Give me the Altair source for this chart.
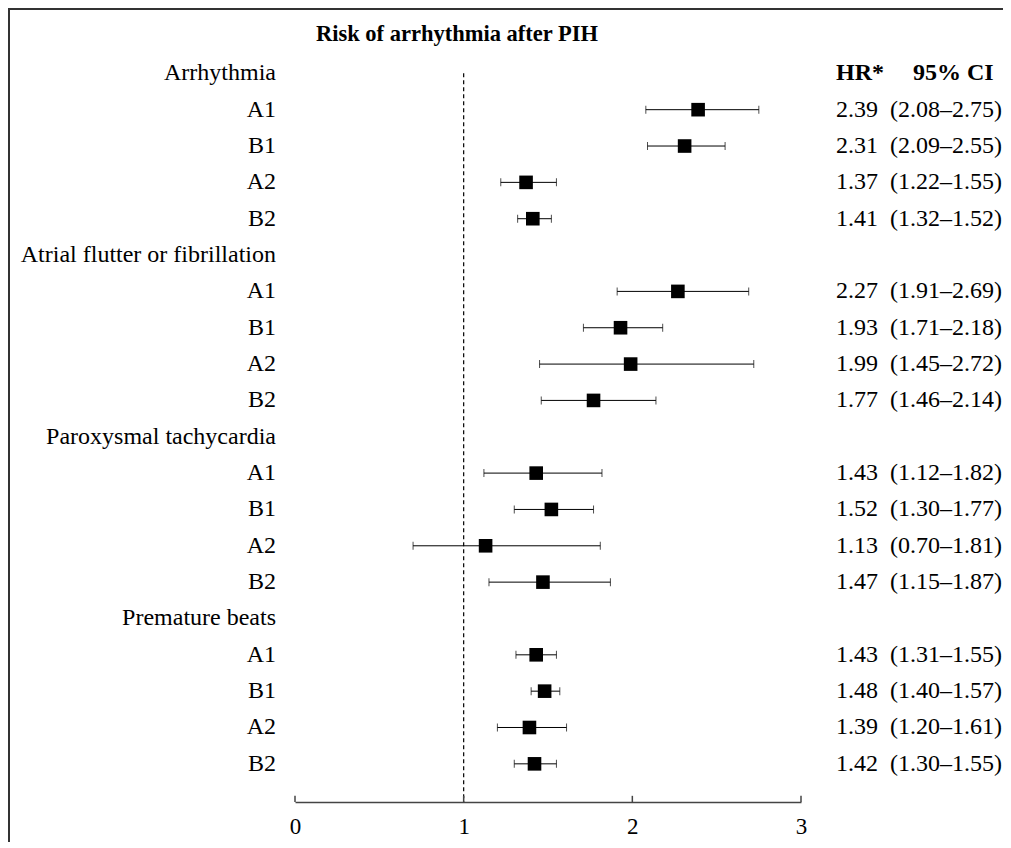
import altair as alt
import pandas as pd

title_text = "Risk of arrhythmia after PIH"
groups = ["Arrhythmia", "Atrial flutter or fibrillation", "Paroxysmal tachycardia", "Premature beats"]
subgroups = ["A1", "B1", "A2", "B2"]
hr = [
    [2.39, 2.31, 1.37, 1.41],
    [2.27, 1.93, 1.99, 1.77],
    [1.43, 1.52, 1.13, 1.47],
    [1.43, 1.48, 1.39, 1.42],
]
ci_lo = [
    [2.08, 2.09, 1.22, 1.32],
    [1.91, 1.71, 1.45, 1.46],
    [1.12, 1.30, 0.70, 1.15],
    [1.31, 1.40, 1.20, 1.30],
]
ci_hi = [
    [2.75, 2.55, 1.55, 1.52],
    [2.69, 2.18, 2.72, 2.14],
    [1.82, 1.77, 1.81, 1.87],
    [1.55, 1.57, 1.61, 1.55],
]
x_ticks = [0, 1, 2, 3]
ref_value = 1
col_headers = ["HR*", "95% CI"]

FONT = "Liberation Serif, Times New Roman, serif"
FS = 24

# build tables
grp_rows, est_rows = [], []
r = 0
for g, name in enumerate(groups):
    grp_rows.append({"label": name, "row": r})
    r += 1
    for j, sg in enumerate(subgroups):
        est_rows.append({
            "label": sg, "row": r, "hr": hr[g][j], "lo": ci_lo[g][j], "hi": ci_hi[g][j],
            "hr_txt": f"{hr[g][j]:.2f}",
            "ci_txt": f"({ci_lo[g][j]:.2f}\u2013{ci_hi[g][j]:.2f})",
        })
        r += 1
n_rows = r
grp_df = pd.DataFrame(grp_rows)
est_df = pd.DataFrame(est_rows)
lab_df = pd.concat([grp_df[["label", "row"]], est_df[["label", "row"]]])

ymax = n_rows + 0.05
xs = alt.Scale(domain=[0, 3], nice=False, zero=False)
ys = alt.Scale(domain=[-1, ymax], reverse=True, nice=False, zero=False)
xaxis = alt.Axis(values=x_ticks, tickSize=0, labelFont=FONT, labelFontSize=23, labelColor="black",
                 domainColor="#444", domainWidth=1.5, grid=False, title=None, labelPadding=13,
                 format="d", labelFlush=False)

W, H = 506, 765

# frame (left & top border)
frame_df = pd.DataFrame({"k": [0]})
frame_left = alt.Chart(frame_df).mark_rule(color="#333", strokeWidth=2).encode(
    x=alt.value(-286), y=alt.value(-29), y2=alt.value(H + 60))
frame_top = alt.Chart(frame_df).mark_rule(color="#333", strokeWidth=2).encode(
    x=alt.value(-287), x2=alt.value(W + 250), y=alt.value(-28))

ref_df = pd.DataFrame({"x": [ref_value], "y": [0], "y2": [ymax]})
ref = alt.Chart(ref_df).mark_rule(color="black", strokeWidth=1.2, strokeDash=[4, 3]).encode(
    x=alt.X("x:Q", scale=xs, axis=xaxis),
    y=alt.Y("y:Q", scale=ys, axis=None),
    y2="y2:Q",
)

tick_df = pd.DataFrame({"x": x_ticks, "y": [ymax - 0.17] * len(x_ticks), "y2": [ymax] * len(x_ticks)})
ticks = alt.Chart(tick_df).mark_rule(color="#444", strokeWidth=1.5).encode(
    x=alt.X("x:Q", scale=xs, axis=xaxis),
    y=alt.Y("y:Q", scale=ys, axis=None),
    y2="y2:Q",
)

base = alt.Chart(est_df)
err = base.mark_rule(color="black", strokeWidth=1).encode(
    x=alt.X("lo:Q", scale=xs, axis=xaxis),
    x2="hi:Q",
    y=alt.Y("row:Q", scale=ys, axis=None),
)
cap_lo = base.mark_tick(color="black", thickness=1, size=8, orient="vertical").encode(
    x=alt.X("lo:Q", scale=xs, axis=xaxis),
    y=alt.Y("row:Q", scale=ys, axis=None),
)
cap_hi = base.mark_tick(color="black", thickness=1, size=8, orient="vertical").encode(
    x=alt.X("hi:Q", scale=xs, axis=xaxis),
    y=alt.Y("row:Q", scale=ys, axis=None),
)
pts = base.mark_square(color="black", size=185, opacity=1, filled=True).encode(
    x=alt.X("hr:Q", scale=xs, axis=xaxis),
    y=alt.Y("row:Q", scale=ys, axis=None),
)

labels = alt.Chart(lab_df).mark_text(font=FONT, fontSize=FS, align="right", baseline="middle",
                                     color="black").encode(
    x=alt.value(-19),
    y=alt.Y("row:Q", scale=ys, axis=None),
    text="label:N",
)
hr_text = base.mark_text(font=FONT, fontSize=FS, align="left", baseline="middle", color="black").encode(
    x=alt.value(541),
    y=alt.Y("row:Q", scale=ys, axis=None),
    text="hr_txt:N",
)
ci_text = base.mark_text(font=FONT, fontSize=FS, align="left", baseline="middle", color="black").encode(
    x=alt.value(595),
    y=alt.Y("row:Q", scale=ys, axis=None),
    text="ci_txt:N",
)
head_df = pd.DataFrame({"t": [col_headers[0]], "row": [0]})
head2_df = pd.DataFrame({"t": [col_headers[1]], "row": [0]})
head1 = alt.Chart(head_df).mark_text(font=FONT, fontSize=FS, fontWeight="bold", align="left",
                                     baseline="middle", color="black").encode(
    x=alt.value(541), y=alt.Y("row:Q", scale=ys, axis=None), text="t:N")
head2 = alt.Chart(head2_df).mark_text(font=FONT, fontSize=FS, fontWeight="bold", align="left",
                                      baseline="middle", color="black").encode(
    x=alt.value(618), y=alt.Y("row:Q", scale=ys, axis=None), text="t:N")

title_df = pd.DataFrame({"t": [title_text], "row": [-1.07]})
title = alt.Chart(title_df).mark_text(font=FONT, fontSize=22.5, fontWeight="bold", align="center",
                                      baseline="middle", color="black").encode(
    x=alt.value(162), y=alt.Y("row:Q", scale=ys, axis=None), text="t:N")

chart = alt.layer(
    frame_left, frame_top, ref, ticks, err, cap_lo, cap_hi, pts,
    labels, hr_text, ci_text, head1, head2, title,
).properties(
    width=W, height=H,
    background="white",
    autosize=alt.AutoSizeParams(type="none"),
    padding={"left": 287, "top": 29, "right": 202, "bottom": 40},
).configure_view(stroke=None)

chart.save("out.html", embed_options={"renderer": "svg", "actions": False})
